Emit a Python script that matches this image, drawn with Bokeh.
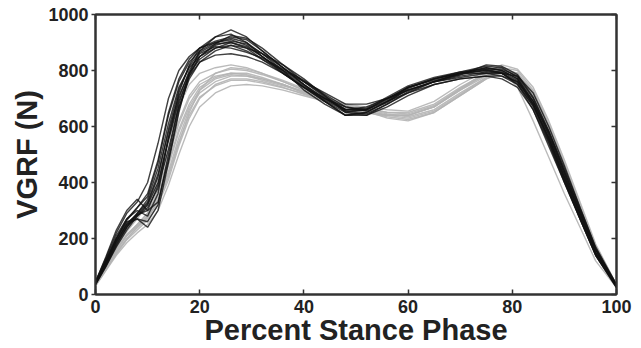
from bokeh.plotting import figure
from bokeh.models import LinearAxis, FixedTicker, Range1d
from bokeh.embed import file_html
from bokeh.resources import INLINE

# Percent stance phase sample points
x_pct = [0, 2, 4, 6, 8, 10, 12, 14, 16, 18, 20, 23, 26, 29, 32, 36, 40, 44, 48, 52,
         56, 60, 65, 70, 75, 78, 81, 84, 87, 90, 93, 96, 100]

# Group 1 (black) VGRF curves, N
black_curves = [
    [40, 110, 190, 250, 290, 330, 430, 580, 710, 790, 840, 880, 900, 880, 840, 790, 740, 700, 660, 670, 700, 730, 760, 780, 795, 790, 760, 680, 560, 420, 290, 160, 30],
    [40, 120, 200, 260, 270, 240, 300, 470, 650, 790, 870, 920, 945, 920, 870, 810, 750, 690, 640, 650, 690, 720, 760, 790, 810, 800, 770, 690, 570, 430, 290, 150, 30],
    [45, 130, 220, 290, 330, 400, 540, 700, 800, 850, 880, 900, 910, 890, 850, 800, 750, 700, 670, 660, 690, 740, 770, 790, 800, 790, 750, 660, 530, 400, 270, 140, 25],
    [35, 100, 170, 230, 280, 310, 380, 520, 670, 770, 830, 870, 890, 880, 860, 810, 760, 710, 650, 640, 670, 710, 750, 770, 780, 780, 760, 690, 580, 440, 300, 160, 30],
    [40, 115, 200, 270, 300, 280, 360, 560, 720, 820, 880, 920, 930, 900, 850, 790, 740, 690, 650, 660, 700, 740, 770, 790, 810, 800, 770, 680, 550, 410, 270, 140, 30],
    [40, 105, 180, 240, 290, 340, 450, 610, 740, 810, 850, 880, 890, 870, 840, 800, 760, 720, 680, 680, 700, 730, 760, 775, 790, 790, 780, 720, 600, 460, 310, 170, 35],
    [35, 100, 175, 240, 280, 320, 400, 550, 690, 780, 830, 855, 860, 850, 830, 790, 740, 690, 640, 640, 680, 720, 750, 770, 780, 770, 740, 660, 540, 400, 270, 140, 25],
    [45, 125, 210, 270, 310, 350, 470, 640, 760, 830, 870, 900, 915, 900, 860, 800, 730, 680, 640, 650, 690, 730, 760, 790, 800, 795, 765, 680, 560, 420, 280, 145, 30],
    [40, 110, 190, 250, 270, 260, 320, 500, 680, 790, 850, 890, 905, 895, 860, 820, 770, 710, 660, 660, 700, 740, 765, 785, 805, 805, 780, 700, 580, 440, 300, 160, 35],
    [40, 120, 200, 265, 310, 360, 480, 650, 770, 840, 880, 905, 920, 910, 870, 810, 750, 700, 660, 665, 705, 745, 775, 795, 815, 810, 775, 690, 570, 430, 290, 150, 30],
    [45, 135, 230, 300, 340, 300, 330, 480, 660, 780, 850, 895, 925, 915, 880, 820, 760, 705, 655, 645, 680, 725, 760, 785, 820, 815, 785, 705, 585, 450, 310, 165, 35],
    [40, 115, 195, 255, 285, 300, 390, 560, 700, 800, 860, 885, 880, 865, 845, 805, 765, 715, 670, 655, 685, 735, 770, 795, 805, 790, 755, 670, 545, 405, 275, 145, 28],
    [38, 108, 185, 245, 285, 325, 420, 590, 730, 815, 865, 895, 900, 885, 850, 795, 745, 695, 655, 660, 695, 740, 770, 790, 790, 780, 750, 675, 555, 415, 280, 150, 30],
]

# Group 2 (gray) VGRF curves, N
gray_curves = [
    [35, 90, 150, 200, 240, 280, 340, 440, 560, 660, 720, 760, 780, 780, 770, 750, 720, 690, 670, 650, 640, 640, 670, 730, 780, 790, 780, 710, 590, 450, 310, 170, 35],
    [40, 100, 165, 215, 250, 290, 370, 490, 610, 700, 750, 780, 790, 785, 770, 750, 725, 700, 675, 660, 645, 635, 660, 720, 775, 795, 785, 720, 600, 460, 320, 175, 35],
    [30, 85, 140, 185, 220, 250, 300, 390, 500, 600, 670, 720, 745, 750, 745, 730, 710, 690, 670, 655, 630, 620, 650, 710, 770, 790, 780, 710, 590, 450, 310, 170, 35],
    [40, 105, 170, 225, 270, 320, 420, 550, 670, 750, 790, 810, 820, 810, 790, 760, 730, 700, 680, 670, 660, 655, 690, 750, 800, 810, 790, 700, 580, 440, 300, 160, 30],
    [35, 95, 155, 210, 250, 290, 360, 470, 590, 680, 740, 775, 790, 790, 775, 750, 720, 690, 665, 650, 640, 640, 670, 730, 790, 800, 740, 620, 490, 360, 240, 120, 25],
    [40, 100, 160, 210, 245, 280, 350, 460, 580, 670, 730, 770, 785, 780, 765, 745, 725, 700, 680, 665, 650, 650, 680, 740, 790, 810, 800, 730, 610, 470, 320, 175, 35],
    [35, 90, 145, 195, 230, 265, 320, 410, 530, 630, 700, 750, 770, 770, 760, 740, 715, 690, 665, 650, 635, 625, 650, 710, 770, 795, 790, 725, 600, 455, 310, 165, 30],
    [40, 110, 180, 235, 275, 320, 400, 510, 620, 710, 760, 790, 805, 800, 785, 760, 730, 700, 675, 655, 640, 640, 670, 735, 785, 800, 785, 710, 590, 450, 305, 165, 30],
    [38, 95, 160, 210, 245, 275, 330, 420, 540, 650, 730, 790, 810, 805, 790, 765, 735, 705, 680, 665, 650, 645, 675, 735, 795, 820, 805, 740, 620, 480, 330, 180, 35],
    [32, 88, 148, 198, 238, 272, 335, 430, 545, 640, 705, 745, 765, 765, 755, 738, 718, 695, 672, 655, 640, 630, 655, 715, 775, 800, 790, 720, 595, 455, 312, 168, 32],
]

x_ticks = [0, 20, 40, 60, 80, 100]
y_ticks = [0, 200, 400, 600, 800, 1000]

FONT = "Liberation Sans"
AX_COL = "#333333"

p = figure(frame_width=521, frame_height=280, x_range=Range1d(0, 100), y_range=Range1d(0, 1000),
           output_backend="svg", toolbar_location=None,
           min_border_left=95, min_border_right=22, min_border_top=14, min_border_bottom=46)
p.grid.visible = False
p.outline_line_color = AX_COL
p.outline_line_width = 2
p.background_fill_color = "white"
p.border_fill_color = "white"

for ys in gray_curves:
    p.line(x_pct, ys, line_color="#b4b4b4", line_width=1.4, line_alpha=0.9)
for ys in black_curves:
    p.line(x_pct, ys, line_color="#111111", line_width=1.4, line_alpha=0.8)

def style(ax, ticks, show_labels=True):
    ax.ticker = FixedTicker(ticks=ticks)
    ax.axis_line_color = AX_COL
    ax.axis_line_width = 2
    ax.major_tick_line_color = AX_COL
    ax.major_tick_line_width = 1.5
    ax.minor_tick_line_color = None
    ax.major_label_text_font = FONT
    ax.major_label_text_font_style = "bold"
    ax.major_label_text_font_size = "18px"
    ax.major_label_text_color = "#222222"
    ax.axis_label_text_font = FONT
    ax.axis_label_text_font_style = "bold"
    ax.axis_label_text_font_size = "29px"
    ax.axis_label_text_color = "#222222"
    if not show_labels:
        ax.major_label_text_font_size = "0px"
        ax.major_label_text_color = None

xa = p.xaxis[0]
style(xa, x_ticks)
xa.axis_label = "Percent Stance Phase"
xa.major_tick_in = 5
xa.major_tick_out = 0
xa.major_label_standoff = 5
xa.axis_label_standoff = -2

ya = p.yaxis[0]
style(ya, y_ticks)
ya.axis_label = "VGRF (N)"
ya.major_tick_in = 0
ya.major_tick_out = 4
ya.major_label_standoff = 3
ya.axis_label_standoff = 2

top = LinearAxis()
style(top, x_ticks, show_labels=False)
top.major_tick_in = 5
top.major_tick_out = 0
p.add_layout(top, "above")

right = LinearAxis()
style(right, y_ticks, show_labels=False)
right.major_tick_in = 5
right.major_tick_out = 0
p.add_layout(right, "right")

open("out.html", "w").write(file_html(p, INLINE))
